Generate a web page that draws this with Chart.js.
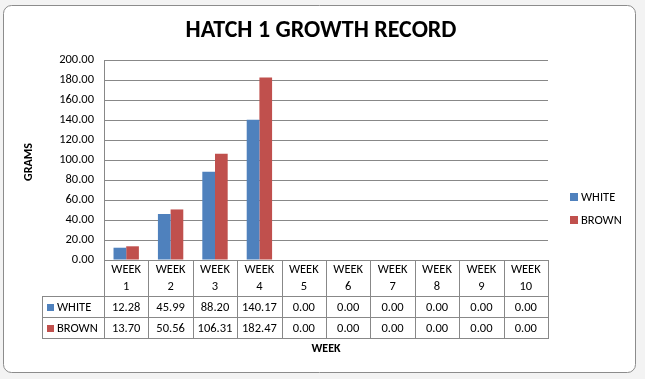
<!DOCTYPE html>
<html>
<head>
<meta charset="utf-8">
<script src="https://cdn.jsdelivr.net/npm/chart.js@4.4.1/dist/chart.umd.min.js"></script>
<style>
  html, body { margin: 0; padding: 0; background: #fff; }
  #wrap { width: 645px; height: 379px; }
</style>
</head>
<body>
<div id="wrap"><canvas id="growthChart"></canvas></div>
<script>
// data
const weeks = ['WEEK 1', 'WEEK 2', 'WEEK 3', 'WEEK 4', 'WEEK 5', 'WEEK 6', 'WEEK 7', 'WEEK 8', 'WEEK 9', 'WEEK 10'];
const whiteGrams = [12.28, 45.99, 88.20, 140.17, 0, 0, 0, 0, 0, 0];
const brownGrams = [13.70, 50.56, 106.31, 182.47, 0, 0, 0, 0, 0, 0];
const seriesNames = ['WHITE', 'BROWN'];
const seriesColors = ['#4F81BD', '#C0504D'];
const yMax = 200;
const yStep = 20;

const FONT = 'Carlito, Lato, sans-serif';
const LINE = '#888888';

// frame + background, like the embedded excel chart
const framePlugin = {
  id: 'frame',
  beforeDraw(chart) {
    const ctx = chart.ctx;
    ctx.save();
    ctx.fillStyle = '#f3f3f3';
    ctx.fillRect(0, 0, chart.width, chart.height);
    ctx.beginPath();
    ctx.roundRect(3.5, 5.5, 632, 367, 8);
    ctx.fillStyle = '#fff';
    ctx.fill();
    ctx.strokeStyle = '#8c8c8c';
    ctx.lineWidth = 1;
    ctx.stroke();
    ctx.restore();
  }
};

// title, axis titles, legend and the data table under the plot
const extrasPlugin = {
  id: 'extras',
  afterDraw(chart) {
    const ctx = chart.ctx;
    const area = chart.chartArea;
    const xs = chart.scales.x;
    const colW = (area.right - area.left) / weeks.length;
    const series = [whiteGrams, brownGrams];

    ctx.save();
    ctx.fillStyle = '#000';
    ctx.textAlign = 'center';
    ctx.textBaseline = 'middle';

    // title
    ctx.font = 'bold 24px ' + FONT;
    ctx.fillText('HATCH 1 GROWTH RECORD', 321, 31);

    // axis titles
    ctx.font = 'bold 12px ' + FONT;
    ctx.fillText('WEEK', (area.left + area.right) / 2, 349);
    ctx.save();
    ctx.translate(29, 162);
    ctx.rotate(-Math.PI / 2);
    ctx.fillText('GRAMS', 0, 0);
    ctx.restore();

    // legend on the right
    ctx.font = '12.5px ' + FONT;
    ctx.textAlign = 'left';
    seriesNames.forEach((name, i) => {
      const y = 197 + i * 23;
      ctx.fillStyle = seriesColors[i];
      ctx.fillRect(570, y - 4, 8, 8);
      ctx.fillStyle = '#000';
      ctx.fillText(name, 581, y + 1);
    });

    // table grid
    const tTop = area.bottom, hdrBot = 296, r1Bot = 317, r2Bot = 338, tLeft = 42;
    ctx.strokeStyle = LINE;
    ctx.lineWidth = 1;
    ctx.beginPath();
    ctx.moveTo(area.left, tTop + 0.5); ctx.lineTo(area.right, tTop + 0.5);
    [hdrBot, r1Bot, r2Bot].forEach(y => { ctx.moveTo(tLeft, y + 0.5); ctx.lineTo(area.right, y + 0.5); });
    ctx.moveTo(tLeft + 0.5, hdrBot); ctx.lineTo(tLeft + 0.5, r2Bot + 1);
    for (let i = 0; i <= weeks.length; i++) {
      const x = Math.round(xs.getPixelForValue(i) - colW / 2) + 0.5;
      ctx.moveTo(x, tTop); ctx.lineTo(x, r2Bot + 1);
    }
    ctx.stroke();

    // header cells
    ctx.textAlign = 'center';
    ctx.fillStyle = '#000';
    weeks.forEach((w, i) => {
      const cx = xs.getPixelForValue(i);
      const parts = w.split(' ');
      ctx.fillText(parts[0], cx, 270);
      ctx.fillText(parts[1], cx, 287);
    });

    // value rows
    const rowY = [307, 328];
    series.forEach((vals, r) => {
      ctx.textAlign = 'left';
      ctx.fillStyle = seriesColors[r];
      ctx.fillRect(47, rowY[r] - 3, 7, 7);
      ctx.fillStyle = '#000';
      ctx.fillText(seriesNames[r], 57, rowY[r] + 1);
      ctx.textAlign = 'center';
      vals.forEach((v, i) => {
        ctx.fillText(v.toFixed(2), xs.getPixelForValue(i), rowY[r] + 1);
      });
    });
    ctx.restore();
  }
};

new Chart(document.getElementById('growthChart'), {
  type: 'bar',
  data: {
    labels: weeks,
    datasets: [
      { label: seriesNames[0], data: whiteGrams, backgroundColor: seriesColors[0] },
      { label: seriesNames[1], data: brownGrams, backgroundColor: seriesColors[1] }
    ]
  },
  options: {
    responsive: true,
    maintainAspectRatio: false,
    animation: false,
    datasets: { bar: { categoryPercentage: 2 / 3.5, barPercentage: 1 } },
    layout: { padding: { left: 0, top: 60, right: 97, bottom: 119 } },
    plugins: { legend: { display: false }, title: { display: false }, tooltip: { enabled: false } },
    scales: {
      x: { display: false },
      y: {
        min: 0,
        max: yMax,
        afterFit: s => { s.width = 104; },
        ticks: { stepSize: yStep, padding: 10, color: '#000', font: { family: FONT, size: 12.5 }, callback: v => v.toFixed(2) },
        grid: { color: LINE, drawTicks: false },
        border: { color: LINE }
      }
    }
  },
  plugins: [framePlugin, extrasPlugin]
});
</script>
</body>
</html>
